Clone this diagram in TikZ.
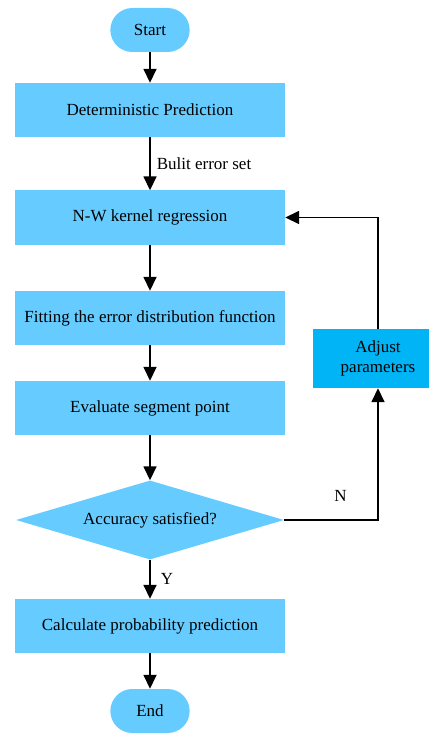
\documentclass[tikz,border=0pt]{standalone}
\usepackage{fontspec}
\setmainfont{Liberation Serif}
\usepackage{tikz}
\usetikzlibrary{shapes.geometric,shapes.misc,arrows.meta}

\definecolor{boxblue}{RGB}{102,204,255}
\definecolor{adjblue}{RGB}{0,180,245}

\begin{document}
\begin{tikzpicture}[x=1pt,y=-1pt,
    font=\fontsize{17}{20}\selectfont,
    terminal/.style={rounded rectangle,fill=boxblue,minimum width=86pt,minimum height=44pt},
    process/.style={rectangle,fill=boxblue,minimum width=270pt,minimum height=54pt,inner sep=0pt},
    decision/.style={diamond,aspect=3.4,fill=boxblue,minimum width=268pt,minimum height=79pt,inner sep=0pt},
    flow/.style={line width=1.6pt,-{Triangle[length=14pt,width=13pt]}}]
      \useasboundingbox (0,0) rectangle (428,735);

      \node[terminal] (start) at (150,30) {Start};
      \node[process] (det) at (150,110) {Deterministic Prediction};
      \node[process] (nw) at (150,217.5) {N-W kernel regression};
      \node[process] (fit) at (150,318) {Fitting the error distribution function};
      \node[process] (eval) at (150,408) {Evaluate segment point};
      \node[decision] (acc) at (150,520) {Accuracy satisfied?};
      \node[process,fill=adjblue,minimum width=130pt,minimum height=59pt,align=center,
            font=\fontsize{17}{20}\selectfont] (adj) at (378,358.5) {Adjust\\parameters};
      \node[process] (calc) at (150,626) {Calculate probability prediction};
      \node[terminal] (end) at (150,711) {End};

      \draw[flow] (start) -- (det);
      \draw[flow] (det) -- node[right,inner sep=6pt] {Bulit error set} (nw);
      \draw[flow] (nw) -- (fit);
      \draw[flow] (fit) -- (eval);
      \draw[flow] (eval) -- (acc);
      \draw[flow] (acc) -- node[right,inner sep=10pt] {Y} (calc);
      \draw[flow] (calc) -- (end);

      %% loop back
      \draw[flow] (acc.east) -| node[pos=.3,yshift=24pt] {N} (adj.south);
      \draw[flow] (adj.north) |- (nw.east);
    \end{tikzpicture}
\end{document}
